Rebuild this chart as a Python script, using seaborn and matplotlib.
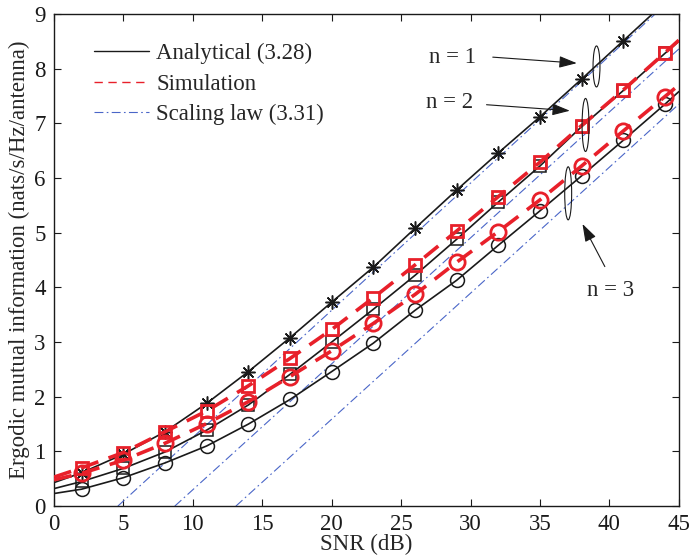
import numpy as np
import pandas as pd
import matplotlib
matplotlib.use("Agg")
import matplotlib.pyplot as plt
from matplotlib.lines import Line2D
from matplotlib.patches import Ellipse
import seaborn as sns

# ---- data ----
snr = [0, 2, 5, 8, 11, 14, 17, 20, 23, 26, 29, 32, 35, 38, 41, 44, 45]

ana_n1 = [0.43, 0.61, 0.95, 1.36, 1.88, 2.46, 3.08, 3.73, 4.37, 5.08, 5.78, 6.46, 7.12, 7.81, 8.51, 9.21, 9.45]
ana_n2 = [0.32, 0.45, 0.69, 0.99, 1.39, 1.85, 2.41, 3.00, 3.60, 4.22, 4.88, 5.56, 6.22, 6.94, 7.60, 8.28, 8.50]
ana_n3 = [0.23, 0.31, 0.52, 0.79, 1.10, 1.50, 1.95, 2.46, 2.98, 3.58, 4.13, 4.77, 5.40, 6.04, 6.69, 7.35, 7.58]

sim_n2 = [0.53, 0.70, 0.98, 1.36, 1.74, 2.20, 2.70, 3.23, 3.81, 4.41, 5.03, 5.66, 6.29, 6.96, 7.61, 8.29, 8.52]
sim_n3 = [0.48, 0.60, 0.84, 1.15, 1.51, 1.91, 2.37, 2.84, 3.34, 3.87, 4.46, 5.02, 5.60, 6.22, 6.86, 7.49, 7.70]

# scaling law (straight lines in dB): end points
law_n1_x = [4.6, 43.3]
law_n1_y = [0.0, 9.0]
law_n2_x = [8.7, 45.0]
law_n2_y = [0.0, 8.36]
law_n3_x = [13.1, 45.0]
law_n3_y = [0.0, 7.35]

legend_labels = ["Analytical (3.28)", "Simulation", "Scaling law (3.31)"]
x_ticks = [0, 5, 10, 15, 20, 25, 30, 35, 40, 45]
y_ticks = [0, 1, 2, 3, 4, 5, 6, 7, 8, 9]

# ---- style ----
sns.set_theme(style="ticks")
plt.rcParams['font.family'] = ['Liberation Serif', 'DejaVu Serif']
plt.rcParams['mathtext.fontset'] = 'stix'

RED = '#e8202a'
BLUE = '#4a66c8'
FS = 16.5

fig = plt.figure(figsize=(6.92, 5.58), dpi=100)
ax = fig.add_axes([0.078, 0.093, 0.903, 0.882])

mk_idx = list(range(1, 16))

def draw(y, color, ls, lw, marker, ms, mew, z):
    df = pd.DataFrame({"snr": snr, "v": y})
    sns.lineplot(data=df, x="snr", y="v", ax=ax, color=color, linestyle=ls, lw=lw,
                 marker=marker, markersize=ms, markeredgewidth=mew,
                 markerfacecolor='none', markeredgecolor=color,
                 markevery=mk_idx, zorder=z, errorbar=None, sort=True)

# scaling law lines
for xs, ys in [(law_n1_x, law_n1_y), (law_n2_x, law_n2_y), (law_n3_x, law_n3_y)]:
    sns.lineplot(x=xs, y=ys, ax=ax, color=BLUE, lw=0.8, linestyle=(0, (8, 3, 1.5, 3)),
                 zorder=2, errorbar=None)

# analytical
draw(ana_n1, 'k', '-', 1.2, (8, 2, 0), 10, 1.1, 3)
draw(ana_n2, 'k', '-', 1.2, 's', 9, 1.1, 3)
draw(ana_n3, 'k', '-', 1.2, 'o', 10, 1.1, 3)
# simulation
draw(sim_n2, RED, (0, (5, 3)), 2.6, 's', 9, 2.0, 4)
draw(sim_n3, RED, (0, (5, 3)), 2.6, 'o', 11, 2.0, 4)

ax.set_xlim(0, 45)
ax.set_ylim(0, 9)
ax.set_xticks(x_ticks)
ax.set_yticks(y_ticks)
ax.set_xticklabels([str(t) for t in x_ticks], fontsize=FS)
ax.set_yticklabels([str(t) for t in y_ticks], fontsize=FS)
ax.tick_params(direction='in', top=True, right=True, length=5, width=0.8, pad=6, colors='k')
for s in ax.spines.values():
    s.set_visible(True)
    s.set_color('k')
    s.set_linewidth(1.0)
ax.set_xlabel("SNR (dB)", fontsize=FS, labelpad=-1)
ax.set_ylabel("Ergodic mutual information (nats/s/Hz/antenna)", fontsize=FS, labelpad=3)

handles = [Line2D([], [], color='k', lw=1.0),
           Line2D([], [], color=RED, lw=1.0, linestyle=(0, (6, 4))),
           Line2D([], [], color=BLUE, lw=0.8, linestyle=(0, (8, 3, 1.5, 3)))]
ax.legend(handles, legend_labels, loc='upper left', bbox_to_anchor=(0.05, 0.96),
          frameon=False, fontsize=FS, handlelength=2.4, handletextpad=0.3,
          labelspacing=0.42, borderaxespad=0)

# annotations
ax.text(28.7, 8.21, "n = 1", fontsize=FS, ha='center', va='center')
ax.text(28.5, 7.38, "n = 2", fontsize=FS, ha='center', va='center')
ax.text(40.1, 3.95, "n = 3", fontsize=FS, ha='center', va='center')
ap = dict(arrowstyle='-|>,head_length=0.9,head_width=0.3', lw=0.8, color='k',
          shrinkA=0, shrinkB=0)
ax.annotate("", xy=(37.65, 8.10), xytext=(31.6, 8.21), arrowprops=ap)
ax.annotate("", xy=(37.15, 7.23), xytext=(31.15, 7.34), arrowprops=ap)
ax.annotate("", xy=(38.06, 5.16), xytext=(39.67, 4.38), arrowprops=ap)
for (cx, cy, h) in [(39.07, 8.04, 0.75), (38.28, 6.97, 0.97), (37.03, 5.72, 0.97)]:
    ax.add_patch(Ellipse((cx, cy), 0.5, h, fill=False, ec='k', lw=0.8, zorder=5))

fig.savefig("out.png", dpi=100)
